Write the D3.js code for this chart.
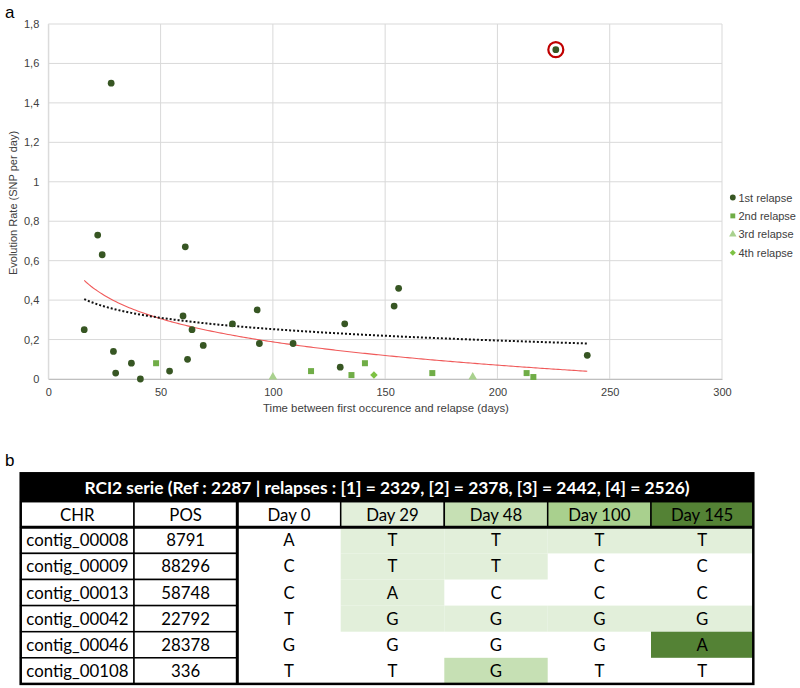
<!DOCTYPE html>
<html><head><meta charset="utf-8">
<script src="https://cdn.jsdelivr.net/npm/d3@7"></script>
<style>body{margin:0;background:#fff}svg{display:block}</style>
</head><body>
<script>
// ---- Data: panel a ----
const rel1 = [[16,0.25],[22,0.73],[24,0.63],[28,1.5],[29,0.14],[30,0.03],[37,0.08],[41,0.0],[54,0.04],[60,0.32],[61,0.67],[62,0.10],[64,0.25],[69,0.17],[82,0.28],[93,0.35],[94,0.18],[109,0.18],[130,0.06],[132,0.28],[154,0.37],[156,0.46],[226,1.67],[240,0.12]];
const rel2 = [[48,0.08],[117,0.04],[135,0.02],[141,0.08],[171,0.03],[213,0.03],[216,0.01]];
const rel3 = [[100,0.01],[189,0.01]];
const rel4 = [[145,0.02]];
const highlighted = [[226,1.67]];
// logarithmic trend lines y = a*ln(x)+b, drawn from x=16 to x=240
const trendRed = {a:-0.170, b:0.971, from:16, to:240};
const trendBlack = {a:-0.083, b:0.635, from:16, to:240};
const xTicks = [0,50,100,150,200,250,300];
const yTicks = [0,0.2,0.4,0.6,0.8,1,1.2,1.4,1.6,1.8];
const legendLabels = ["1st relapse","2nd relapse","3rd relapse","4th relapse"];
// ---- Data: panel b ----
const tableTitle = "RCI2 serie (Ref : 2287 | relapses : [1] = 2329, [2] = 2378, [3] = 2442, [4] = 2526)";
const headers = ["CHR","POS","Day 0","Day 29","Day 48","Day 100","Day 145"];
const chr = ["contig_00008","contig_00009","contig_00013","contig_00042","contig_00046","contig_00108"];
const pos = ["8791","88296","58748","22792","28378","336"];
const bases = [
  ["A","T","T","T","T"],
  ["C","T","T","C","C"],
  ["C","A","C","C","C"],
  ["T","G","G","G","G"],
  ["G","G","G","G","A"],
  ["T","T","G","T","T"]
];
// shading level per cell: 0 none, 1 day29 colour, 2 day48, 3 day100, 4 day145
const shade = [
  [0,1,1,1,1],
  [0,1,1,0,0],
  [0,1,0,0,0],
  [0,1,1,1,1],
  [0,0,0,0,4],
  [0,0,2,0,0]
];

const W=800,H=688;
const svg=d3.select("body").append("svg").attr("width",W).attr("height",H);
const lab="'Liberation Sans', Arial, sans-serif";
svg.append("text").attr("x",5).attr("y",18).attr("font-family",lab).attr("font-size",17).text("a");
svg.append("text").attr("x",5).attr("y",466).attr("font-family",lab).attr("font-size",17).text("b");

const x=d3.scaleLinear().domain([0,300]).range([48.3,722]);
const y=d3.scaleLinear().domain([0,1.8]).range([379,24]);
const g=svg.append("g");
// grid
g.selectAll(".vg").data(xTicks).join("line").attr("x1",d=>x(d)).attr("x2",d=>x(d)).attr("y1",y(1.8)).attr("y2",y(0)).attr("stroke","#d9d9d9").attr("stroke-width",1);
g.selectAll(".hg").data(yTicks).join("line").attr("x1",x(0)).attr("x2",x(300)).attr("y1",d=>y(d)).attr("y2",d=>y(d)).attr("stroke","#d9d9d9").attr("stroke-width",1);
const fmt=d=>d3.format("~g")(d).replace(".",",");
const xa=g.append("g").attr("transform",`translate(0,${y(0)})`).call(d3.axisBottom(x).tickValues(xTicks).tickSize(0).tickPadding(9));
xa.select(".domain").attr("stroke","#bfbfbf");
xa.selectAll("text").attr("font-family",lab).attr("font-size",11).attr("fill","#404040");
const ya=g.append("g").attr("transform",`translate(${x(0)},0)`).call(d3.axisLeft(y).tickValues(yTicks).tickSize(0).tickPadding(9).tickFormat(fmt));
ya.select(".domain").attr("stroke","#d9d9d9");
ya.selectAll("text").attr("font-family",lab).attr("font-size",11).attr("fill","#404040");
svg.append("text").attr("transform","translate(17,203) rotate(-90)").attr("text-anchor","middle").attr("font-family",lab).attr("font-size",11).attr("fill","#404040").text("Evolution Rate (SNP per day)");
svg.append("text").attr("x",386).attr("y",412).attr("text-anchor","middle").attr("font-family",lab).attr("font-size",11.4).attr("fill","#404040").text("Time between first occurence and relapse (days)");

// trend lines
function trendPts(t){return d3.range(t.from,t.to+0.5,1).map(v=>[v,t.a*Math.log(v)+t.b]);}
const line=d3.line().x(d=>x(d[0])).y(d=>y(d[1]));
g.append("path").attr("d",line(trendPts(trendRed))).attr("fill","none").attr("stroke","#f05a5a").attr("stroke-width",1.1);
g.append("path").attr("d",line(trendPts(trendBlack))).attr("fill","none").attr("stroke","#111").attr("stroke-width",2).attr("stroke-dasharray","2,2");

const c1="#375623",c2="#70ad47",c3="#a9d18e",c4="#7dc243";
const sym=[d3.symbolCircle,d3.symbolSquare,d3.symbolTriangle,d3.symbolDiamond2];
const cols=[c1,c2,c3,c4];
const sizes=[36,36,32,36];
[rel1,rel2,rel3,rel4].forEach((arr,i)=>{
  g.selectAll(".s"+i).data(arr).join("path").attr("transform",d=>`translate(${x(d[0])},${y(d[1])})`).attr("d",d3.symbol(sym[i],sizes[i])).attr("fill",cols[i]);
});
g.selectAll(".hl").data(highlighted).join("circle").attr("cx",d=>x(d[0])).attr("cy",d=>y(d[1])).attr("r",7.5).attr("fill","none").attr("stroke","#c00000").attr("stroke-width",2.2);

// legend
const lg=svg.append("g");
legendLabels.forEach((t,i)=>{
  const yy=197.5+i*18.4;
  lg.append("path").attr("transform",`translate(732.8,${yy})`).attr("d",d3.symbol(sym[i],i==0?26:24)).attr("fill",cols[i]);
  lg.append("text").attr("x",738.5).attr("y",yy+4).attr("font-family",lab).attr("font-size",11).attr("fill","#404040").text(t);
});

// ---- table ----
const tf="Lato, 'Open Sans', sans-serif";
const colX=[20.7,134,237.3,340.7,444.3,547.7,651,753.3];
const tTop=473.3, titleB=501.7, headB=527.3, rowH=26.1;
const tg=svg.append("g");
const hdrFill=[null,null,"#ffffff","#e2efda","#c6e0b4","#a9d08e","#548235"];
const shadeCols=[null,"#e2efda","#c6e0b4","#a9d08e","#548235"];
tg.append("rect").attr("x",colX[0]).attr("y",tTop).attr("width",colX[7]-colX[0]).attr("height",titleB-tTop).attr("fill","#000");
tg.append("text").attr("x",(colX[0]+colX[7])/2).attr("y",(tTop+titleB)/2+6).attr("text-anchor","middle").attr("font-family",tf).attr("font-weight","bold").attr("font-size",17.4).attr("fill","#fff").text(tableTitle);
headers.forEach((h,i)=>{
  tg.append("rect").attr("x",colX[i]).attr("y",titleB).attr("width",colX[i+1]-colX[i]).attr("height",headB-titleB).attr("fill",hdrFill[i]||"#fff").attr("stroke","#000").attr("stroke-width",1.5);
  tg.append("text").attr("x",(colX[i]+colX[i+1])/2).attr("y",(titleB+headB)/2+6).attr("text-anchor","middle").attr("font-family",tf).attr("font-size",16.8).attr("fill","#000").text(h);
});
chr.forEach((c,r)=>{
  const y0=headB+r*rowH;
  [c,pos[r]].forEach((t,i)=>{
    tg.append("rect").attr("x",colX[i]).attr("y",y0).attr("width",colX[i+1]-colX[i]).attr("height",rowH).attr("fill","#fff").attr("stroke","#000").attr("stroke-width",1.5);
    tg.append("text").attr("x",(colX[i]+colX[i+1])/2).attr("y",y0+rowH/2+6).attr("text-anchor","middle").attr("font-family",tf).attr("font-size",16.8).text(t);
  });
  bases[r].forEach((b,j)=>{
    const i=j+2;
    if(shade[r][j]) tg.append("rect").attr("x",colX[i]).attr("y",y0).attr("width",colX[i+1]-colX[i]).attr("height",rowH).attr("fill",shadeCols[shade[r][j]]);
    tg.append("text").attr("x",(colX[i]+colX[i+1])/2).attr("y",y0+rowH/2+6).attr("text-anchor","middle").attr("font-family",tf).attr("font-size",16.8).text(b);
  });
});
const bottom=headB+chr.length*rowH;
tg.append("line").attr("x1",colX[2]).attr("x2",colX[2]).attr("y1",titleB).attr("y2",bottom).attr("stroke","#000").attr("stroke-width",3);
tg.append("line").attr("x1",colX[0]).attr("x2",colX[7]).attr("y1",headB).attr("y2",headB).attr("stroke","#000").attr("stroke-width",3);
tg.append("rect").attr("x",colX[0]).attr("y",tTop).attr("width",colX[7]-colX[0]).attr("height",bottom-tTop).attr("fill","none").attr("stroke","#000").attr("stroke-width",2.5);
</script>
</body></html>
